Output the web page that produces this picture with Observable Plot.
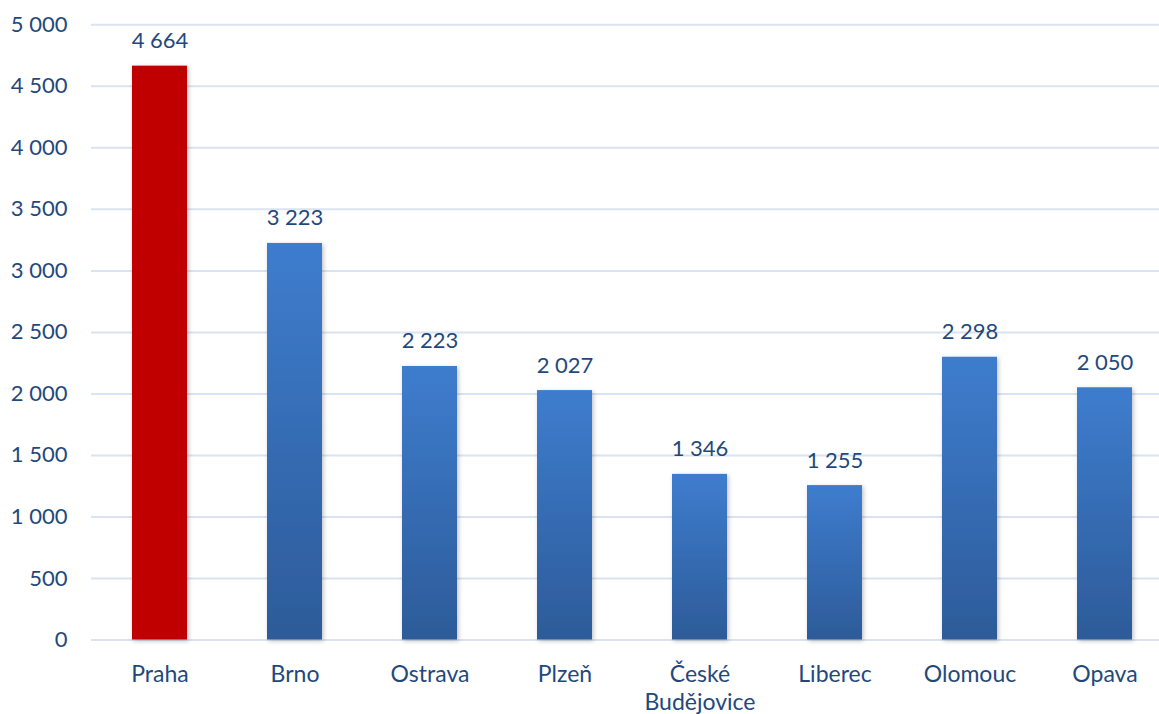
<!DOCTYPE html>
<html><head><meta charset="utf-8">
<script src="https://cdn.jsdelivr.net/npm/d3@7"></script>
<script src="https://cdn.jsdelivr.net/npm/@observablehq/plot@0.6"></script>
<style>body{margin:0;background:#fff;overflow:hidden}</style>
</head><body><div id="chart"></div>
<script>
const cities = ["Praha", "Brno", "Ostrava", "Plzeň", "České Budějovice", "Liberec", "Olomouc", "Opava"];
const values = [4664, 3223, 2223, 2027, 1346, 1255, 2298, 2050];
const xTickLabels = ["Praha", "Brno", "Ostrava", "Plzeň", "České\nBudějovice", "Liberec", "Olomouc", "Opava"];
const yTicks = [0, 500, 1000, 1500, 2000, 2500, 3000, 3500, 4000, 4500, 5000];
const highlighted = "Praha";

const data = cities.map((city, i) => ({city, value: values[i]}));
const fmt = d3.formatLocale({thousands: " ", grouping: [3], decimal: ",", currency: ["", ""]}).format(",d");
const textColor = "#1F497D";

const defs = () => {
  const d = d3.create("svg:defs");
  const g = d.append("linearGradient").attr("id", "blueGrad").attr("x1", 0).attr("y1", 0).attr("x2", 0).attr("y2", 1);
  g.append("stop").attr("offset", "0%").attr("stop-color", "#3E7DCE");
  g.append("stop").attr("offset", "100%").attr("stop-color", "#2D5B99");
  const f = d.append("filter").attr("id", "shadow").attr("x", "-20%").attr("y", "-5%").attr("width", "140%").attr("height", "115%");
  f.append("feDropShadow").attr("dx", 1.5).attr("dy", 1.5).attr("stdDeviation", 2).attr("flood-color", "#000").attr("flood-opacity", 0.25);
  return d.node();
};

const chart = Plot.plot({
  width: 1159,
  height: 714,
  marginLeft: 91,
  marginRight: 0,
  marginTop: 24,
  marginBottom: 74,
  style: {fontFamily: "Lato, 'Open Sans', sans-serif", fontSize: "22px", color: textColor, background: "white"},
  x: {domain: cities, range: [90.8, 1173.7], paddingInner: 0.59, paddingOuter: 0.295, label: null},
  y: {domain: [0, 5000], range: [639.5, 24.3], label: null},
  marks: [
    defs,
    Plot.ruleY(yTicks, {stroke: "#D9E3F1", strokeWidth: 2}),
    Plot.barY(data.filter(d => d.city === highlighted), {x: "city", y: "value", fill: "#C00000"}),
    Plot.barY(data.filter(d => d.city !== highlighted), {x: "city", y: "value", fill: "url(#blueGrad)"}),
    Plot.text(data, {x: "city", y: "value", text: d => fmt(d.value), lineAnchor: "bottom", dy: -18, fill: textColor, fontSize: 22}),
    Plot.axisY({ticks: yTicks, tickFormat: fmt, tickSize: 0, tickPadding: 24, fontSize: 22, fill: textColor, label: null}),
    Plot.axisX({tickSize: 0, tickPadding: 22, fontSize: 23, fill: textColor, lineHeight: 1.22, label: null,
      tickFormat: c => xTickLabels[cities.indexOf(c)]})
  ]
});
d3.select(chart).selectAll('g[aria-label="bar"]').attr("filter", "url(#shadow)");
document.getElementById("chart").appendChild(chart);
</script>
</body></html>
